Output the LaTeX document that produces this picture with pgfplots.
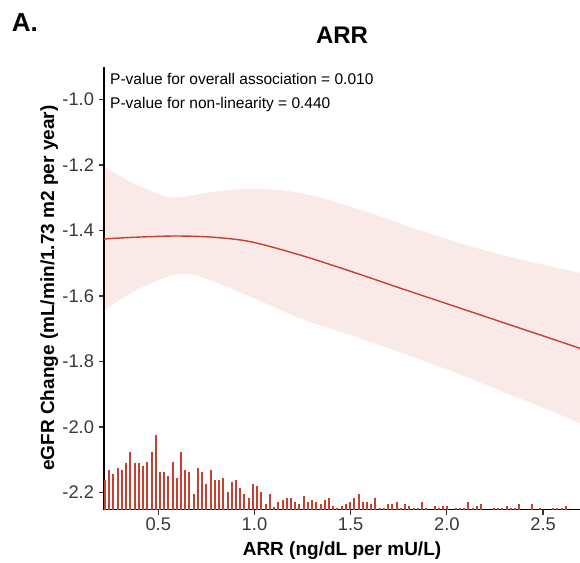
\documentclass[border=0pt]{standalone}
\usepackage{pgfplots}
\pgfplotsset{compat=1.18}
\usepgfplotslibrary{fillbetween}
\usepackage{fontspec}
\setmainfont{Liberation Sans}
\definecolor{rcsred}{RGB}{200,62,48}

\pgfplotstableread{
x h
0.223 29.5
0.245 39.5
0.267 35.5
0.289 41.8
0.311 39.5
0.333 46.2
0.355 57.8
0.377 46.2
0.399 46.2
0.421 43.8
0.443 47.8
0.465 57.8
0.487 74.5
0.509 37.8
0.531 37.8
0.553 33.8
0.575 47.8
0.597 31.8
0.618 57.8
0.640 40.0
0.662 37.8
0.684 15.5
0.706 41.8
0.728 37.8
0.750 26.0
0.772 40.0
0.794 30.0
0.816 30.0
0.838 32.0
0.860 17.6
0.882 27.8
0.904 30.0
0.926 21.5
0.948 15.5
0.970 11.5
0.992 26.0
1.014 24.0
1.036 17.8
1.058 5.5
1.080 15.5
1.102 3.0
1.124 7.5
1.146 9.5
1.168 11.5
1.190 11.5
1.212 7.5
1.234 5.5
1.256 13.5
1.278 7.5
1.300 9.5
1.322 7.5
1.344 5.5
1.365 9.5
1.387 11.5
1.409 3.5
1.431 1.6
1.453 3.5
1.475 5.5
1.497 7.5
1.519 11.5
1.541 15.5
1.563 7.5
1.585 7.5
1.607 5.8
1.629 11.5
1.651 1.6
1.673 1.6
1.695 5.5
1.717 5.5
1.739 7.5
1.761 1.6
1.783 5.5
1.805 3.5
1.827 1.6
1.849 1.6
1.871 7.5
1.893 1.6
1.937 3.5
1.959 1.6
1.981 3.5
2.003 3.5
2.047 1.6
2.069 1.6
2.090 1.6
2.112 8.0
2.134 1.6
2.156 3.5
2.178 5.5
2.244 1.6
2.266 1.6
2.288 1.6
2.310 3.5
2.332 1.6
2.354 1.6
2.376 5.5
2.442 5.5
2.486 1.6
2.552 1.6
2.574 1.6
2.596 1.6
2.618 3.5
}\bardata

\pgfplotstableread{
x y
0.218 -1.426
0.370 -1.421
0.578 -1.417
0.769 -1.420
0.977 -1.434
1.237 -1.475
1.497 -1.524
1.757 -1.576
2.017 -1.627
2.276 -1.678
2.536 -1.729
2.692 -1.760
}\fitdata

\pgfplotstableread{
x y
0.218 -1.206
0.370 -1.256
0.544 -1.297
0.630 -1.297
0.804 -1.281
0.977 -1.273
1.150 -1.278
1.323 -1.297
1.583 -1.343
1.843 -1.396
2.103 -1.445
2.363 -1.486
2.692 -1.529
}\updata

\pgfplotstableread{
x y
0.218 -1.645
0.370 -1.587
0.578 -1.536
0.717 -1.541
0.977 -1.602
1.237 -1.668
1.497 -1.719
1.757 -1.772
2.017 -1.828
2.276 -1.889
2.536 -1.950
2.692 -1.989
}\lodata

\begin{document}
\begin{tikzpicture}
\begin{axis}[
  scale only axis, width=476pt, height=442.8pt,
  xmin=0.218, xmax=2.692, ymin=0, ymax=442.8,
  hide axis]
\addplot[ycomb, draw=rcsred, line width=2pt, mark=none] table[x=x, y=h] {\bardata};
\end{axis}
\begin{axis}[
  scale only axis, width=476pt, height=442.8pt,
  xmin=0.218, xmax=2.692, ymin=-2.252, ymax=-0.9,
  axis x line*=bottom, axis y line*=left,
  axis line style={-, black, line width=1.5pt},
  tick pos=left, tick align=outside,
  major tick length=5pt,
  tick style={black!80, line width=1.2pt},
  xtick={0.5,1.0,1.5,2.0,2.5},
  ytick={-2.2,-2.0,-1.8,-1.6,-1.4,-1.2,-1.0},
  ticklabel style={font=\fontsize{18.3}{21}\selectfont, text=black!78},
  yticklabel style={xshift=-1.5pt},
  /pgf/number format/.cd, fixed, zerofill, precision=1, assume math mode=true,
  /pgfplots/.cd,
  title={ARR},
  title style={at={(axis description cs:0.5,1.0377)}, anchor=base, font=\bfseries\fontsize{24}{28}\selectfont},
  xlabel={ARR (ng/dL per mU/L)},
  ylabel={eGFR Change (mL/min/1.73 m2 per year)},
  every axis x label/.style={at={(axis description cs:0.5,-0.1028)}, anchor=base, font=\bfseries\fontsize{19}{22}\selectfont},
  every axis y label/.style={at={(axis description cs:-0.105,0.5)}, anchor=base, rotate=90, font=\bfseries\fontsize{19}{22}\selectfont},
  clip=true]
\addplot[name path=up, draw=none, smooth] table {\updata};
\addplot[name path=lo, draw=none, smooth] table {\lodata};
\addplot[fill=rcsred, fill opacity=0.11, draw=none] fill between[of=up and lo];
\addplot[rcsred, line width=1.4pt, smooth, mark=none] table {\fitdata};
\node[anchor=base west, inner sep=0pt, font=\fontsize{15.5}{18}\selectfont] at (axis description cs:0.0126,0.9598) {P-value for overall association = 0.010};
\node[anchor=base west, inner sep=0pt, font=\fontsize{15.5}{18}\selectfont] at (axis description cs:0.0126,0.9056) {P-value for non-linearity = 0.440};
\end{axis}
\node[anchor=base west, inner sep=0pt, font=\bfseries\fontsize{26}{30}\selectfont] at (-92.3pt,477.8pt) {A.};
\pgfresetboundingbox
\path[use as bounding box] (-104pt,-52.5pt) rectangle (476pt,509.5pt);
\end{tikzpicture}
\end{document}
